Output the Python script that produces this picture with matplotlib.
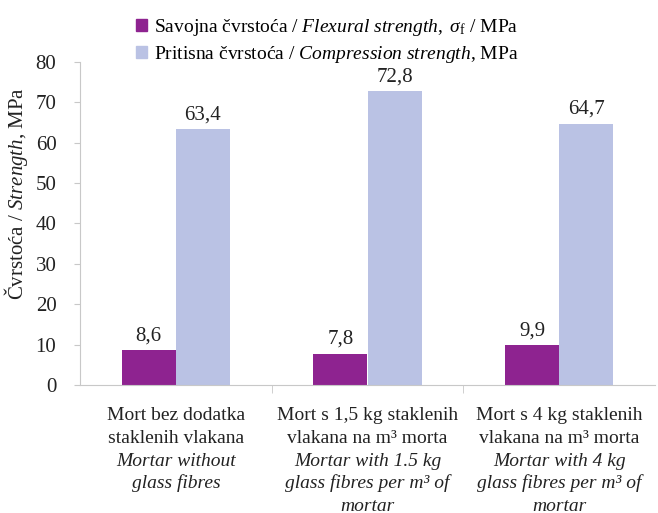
import numpy as np
import matplotlib.pyplot as plt
from matplotlib.patches import Patch

plt.rcParams['font.family'] = ['Liberation Serif', 'DejaVu Serif']
plt.rcParams['mathtext.fontset'] = 'custom'
plt.rcParams['mathtext.rm'] = 'Liberation Serif'
plt.rcParams['mathtext.it'] = 'Liberation Serif:italic'
plt.rcParams['mathtext.bf'] = 'Liberation Serif:bold'

# podaci: (tekst retka, kurziv?)
cat_lines = [
    [('Mort bez dodatka', False), ('staklenih vlakana', False),
     ('Mortar without', True), ('glass fibres', True)],
    [('Mort s 1,5 kg staklenih', False), ('vlakana na m³ morta', False),
     ('Mortar with 1.5 kg', True), ('glass fibres per m³ of', True), ('mortar', True)],
    [('Mort s 4 kg staklenih', False), ('vlakana na m³ morta', False),
     ('Mortar with 4 kg', True), ('glass fibres per m³ of', True), ('mortar', True)],
]
flexural = [8.6, 7.8, 9.9]
compression = [63.4, 72.8, 64.7]
flex_labels = ['8,6', '7,8', '9,9']
comp_labels = ['63,4', '72,8', '64,7']

purple = '#8E2390'
blue = '#BAC2E4'
grey = '#C8C8C8'
txt = '#222222'

fig = plt.figure(figsize=(6.58, 5.13), dpi=100)
ax = fig.add_axes([80 / 658, 1 - 385 / 513, 575 / 658, 323 / 513])

x = np.arange(len(cat_lines))
w = 0.282
b1 = ax.bar(x - w / 2, flexural, w, color=purple)
b2 = ax.bar(x + w / 2, compression, w, color=blue)

for bars, labs in [(b1, flex_labels), (b2, comp_labels)]:
    for r, lab in zip(bars, labs):
        ax.text(r.get_x() + r.get_width() / 2, r.get_height() + 1.2, lab,
                ha='center', va='bottom', fontsize=15, color=txt)

ax.set_xlim(-0.5, 2.5)
ax.set_ylim(0, 80)
ax.set_yticks(range(0, 81, 10))
ax.tick_params(axis='y', labelsize=15, colors=grey, labelcolor=txt, length=4, pad=13)

# oznake kategorija, redak po redak
ax.set_xticks(x)
ax.set_xticklabels([''] * len(x))
ax.tick_params(axis='x', length=0)
for xi, lines in zip(x, cat_lines):
    for i, (line, ital) in enumerate(lines):
        ax.annotate(line, xy=(xi, 0), xycoords=('data', 'axes fraction'),
                    xytext=(0, -25 - 16.5 * i), textcoords='offset points',
                    ha='center', va='baseline', fontsize=14, color=txt,
                    style='italic' if ital else 'normal', annotation_clip=False)
ax.set_xticks([0.5, 1.5], minor=True)
ax.tick_params(axis='x', which='minor', length=6, color=grey)

for s in ['top', 'right']:
    ax.spines[s].set_visible(False)
for s in ['left', 'bottom']:
    ax.spines[s].set_color(grey)

ax.set_ylabel(r'Čvrstoća / $\mathit{Strength}$, MPa', fontsize=15, color=txt)
ax.yaxis.set_label_coords(-0.087, 0.594)

handles = [Patch(color=purple), Patch(color=blue)]
labels = [r'Savojna čvrstoća / $\mathit{Flexural\ strength,}\ \sigma_\mathrm{f}$ / MPa',
          r'Pritisna čvrstoća / $\mathit{Compression\ strength}$, MPa']
fig.legend(handles, labels, loc='upper left', bbox_to_anchor=(128 / 658, 1 - 9 / 513),
           frameon=False, fontsize=14, handlelength=0.6, handleheight=0.6,
           handletextpad=0.35, labelspacing=0.3, borderaxespad=0)

fig.savefig('out.png', dpi=100)
